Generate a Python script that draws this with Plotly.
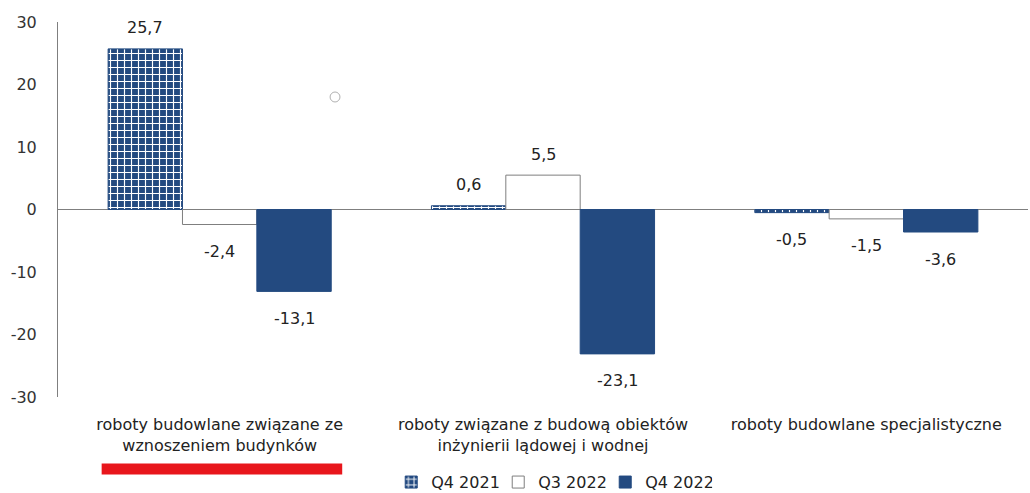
import plotly.graph_objects as go

categories = [
    "roboty budowlane związane ze<br>wznoszeniem budynków",
    "roboty związane z budową obiektów<br>inżynierii lądowej i wodnej",
    "roboty budowlane specjalistyczne",
]
series_names = ["Q4 2021", "Q3 2022", "Q4 2022"]
q4_2021 = [25.7, 0.6, -0.5]
q3_2022 = [-2.4, 5.5, -1.5]
q4_2022 = [-13.1, -23.1, -3.6]
y_ticks = [-30, -20, -10, 0, 10, 20, 30]

NAVY = "#234A80"
FONT = "DejaVu Sans"
TXT = "#222222"
FS = 16

W, H = 1030, 493
ML, MR, MT, MB = 58, 2, 22, 96
BARGAP = 0.31


def fmt(v):
    return f"{v:.1f}".replace(".", ",")


series = [q4_2021, q3_2022, q4_2022]
markers = [
    dict(color="white", line=dict(color=NAVY, width=1),
         pattern=dict(shape="+", fgcolor="white", bgcolor=NAVY,
                      size=7, solidity=0.3, fillmode="replace")),
    dict(color="white", line=dict(color="#7f7f7f", width=1)),
    dict(color=NAVY, line=dict(color=NAVY, width=1)),
]

fig = go.Figure()
for name, vals, mk in zip(series_names, series, markers):
    fig.add_trace(go.Bar(name=name, x=categories, y=vals, marker=mk))

# value labels (placed from data values; horizontal offset = bar slot width)
plot_w = W - ML - MR
slot = plot_w / len(categories) * (1 - BARGAP) / len(series)
annotations = []
for j, vals in enumerate(series):
    for cat, v in zip(categories, vals):
        annotations.append(dict(
            x=cat, y=v, xref="x", yref="y", text=fmt(v), showarrow=False,
            xshift=(j - (len(series) - 1) / 2) * slot,
            yshift=21 if v >= 0 else -27, yanchor="middle",
            font=dict(family=FONT, size=FS, color=TXT)))

fig.update_layout(
    width=W, height=H,
    margin=dict(l=ML, r=MR, t=MT, b=MB),
    paper_bgcolor="white", plot_bgcolor="white",
    barmode="group", bargap=BARGAP, bargroupgap=0,
    font=dict(family=FONT, size=FS, color=TXT),
    showlegend=True,
    legend=dict(orientation="h", x=0.509, xanchor="center",
                yref="container", y=0.022, yanchor="middle",
                font=dict(family=FONT, size=FS, color=TXT),
                itemwidth=30, entrywidth=62, tracegroupgap=0),
    xaxis=dict(showline=False, showgrid=False, ticks="", automargin=False,
               ticklabelstandoff=16,
               tickfont=dict(family=FONT, size=FS, color=TXT)),
    yaxis=dict(range=[-30, 30], tickvals=y_ticks,
               ticktext=[str(t) for t in y_ticks], automargin=False,
               showgrid=False, zeroline=True, zerolinecolor="#7f7f7f",
               zerolinewidth=1, showline=True, linecolor="#7f7f7f",
               linewidth=1, ticks="", ticklabelstandoff=17,
               tickfont=dict(family=FONT, size=FS, color="#333333")),
    annotations=annotations,
    shapes=[
        dict(type="line", xref="paper", yref="paper",
             x0=0.045, x1=0.293, y0=-0.192, y1=-0.192,
             line=dict(color="#e8161c", width=11)),
        dict(type="circle", xref="paper", yref="paper",
             x0=0.2805, x1=0.2907, y0=0.7867, y1=0.8133,
             line=dict(color="#b0b0b0", width=1)),
    ],
)

fig.write_html("out.html")
